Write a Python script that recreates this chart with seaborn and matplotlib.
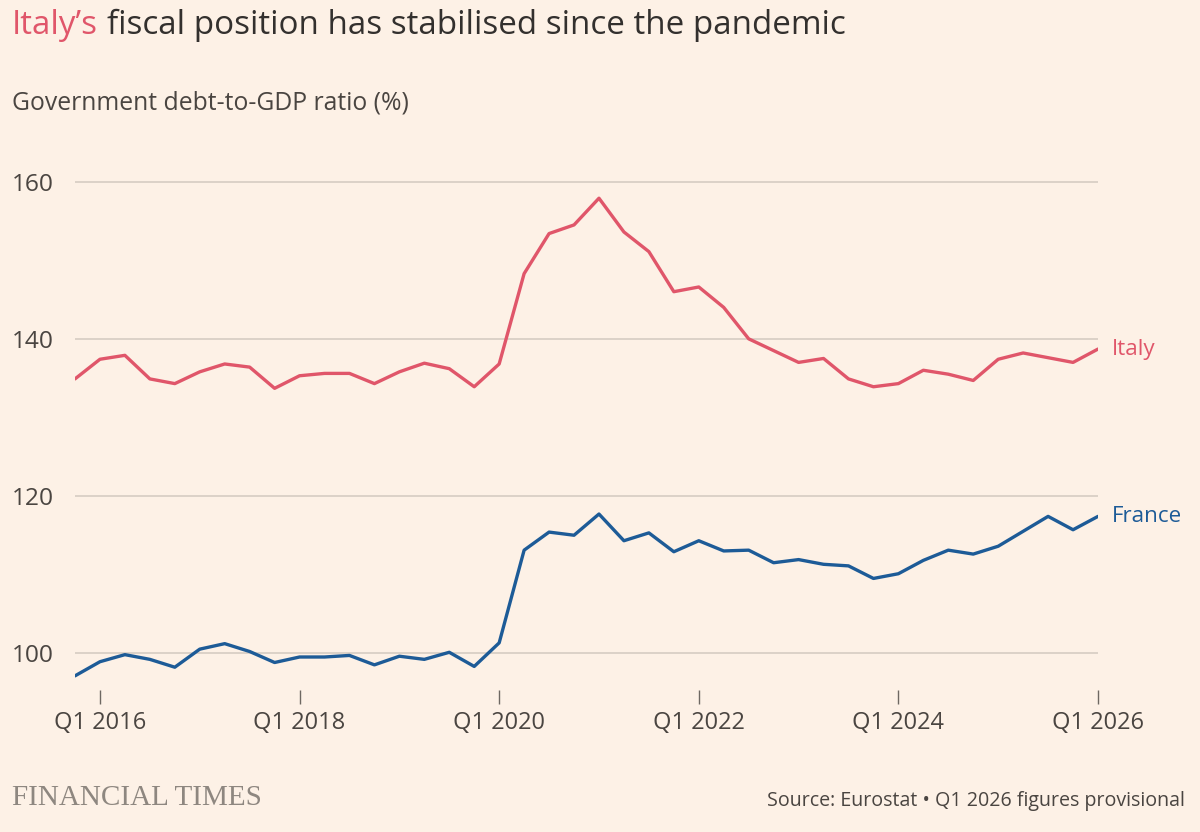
import matplotlib
matplotlib.use("Agg")
import matplotlib.pyplot as plt
import seaborn as sns
import pandas as pd
import numpy as np

# ---- data ----
quarters = [str(p) for p in pd.period_range("2015Q4", "2026Q1", freq="Q")]
italy = [134.9, 137.4, 137.9, 134.9, 134.3, 135.8, 136.8, 136.4, 133.7, 135.3,
         135.6, 135.6, 134.3, 135.8, 136.9, 136.2, 133.9, 136.8, 148.3, 153.4,
         154.5, 157.9, 153.6, 151.1, 146.0, 146.6, 144.0, 140.0, 138.5, 137.0,
         137.5, 134.9, 133.9, 134.3, 136.0, 135.5, 134.7, 137.4, 138.2, 137.6,
         137.0, 138.7]
france = [97.1, 98.9, 99.8, 99.2, 98.2, 100.5, 101.2, 100.2, 98.8, 99.5,
          99.5, 99.7, 98.5, 99.6, 99.2, 100.1, 98.3, 101.3, 113.1, 115.4,
          115.0, 117.7, 114.3, 115.3, 112.9, 114.3, 113.0, 113.1, 111.5, 111.9,
          111.3, 111.1, 109.5, 110.1, 111.8, 113.1, 112.6, 113.6, 115.5, 117.4,
          115.7, 117.4]
x_ticks = ["2016Q1", "2018Q1", "2020Q1", "2022Q1", "2024Q1", "2026Q1"]
x_tick_labels = ["Q1 2016", "Q1 2018", "Q1 2020", "Q1 2022", "Q1 2024", "Q1 2026"]
y_ticks = [100, 120, 140, 160]

BG = "#FDF1E6"
RED = "#E0566A"
BLUE = "#1D5B97"
TEXT = "#33302E"
SUB = "#4A4541"
GRID = "#DCD2C8"
W, H = 1200, 832

idx = list(range(len(quarters)))
df = pd.DataFrame({
    "t": idx * 2,
    "value": italy + france,
    "country": ["Italy"] * len(quarters) + ["France"] * len(quarters),
})

sns.set_theme(style="white")
plt.rcParams["font.family"] = ["Open Sans", "DejaVu Sans"]

fig = plt.figure(figsize=(12, 8.32), dpi=100, facecolor=BG)
ax = fig.add_axes([75 / W, 1 - 690 / H, (1098 - 75) / W, (690 - 166) / H])
ax.set_facecolor(BG)

sns.lineplot(data=df, x="t", y="value", hue="country",
             palette={"Italy": RED, "France": BLUE},
             linewidth=2.4, legend=False, ax=ax)

ax.set_xlim(0, len(quarters) - 1)
ax.set_ylim(95.3, 162.0)


def fit(t, target_px):
    fig.canvas.draw()
    w = t.get_window_extent().width
    t.set_fontsize(t.get_fontsize() * target_px / w)
    return t.get_fontsize()


ax.set_yticks(y_ticks)
ax.set_yticklabels([str(v) for v in y_ticks])
ax.yaxis.grid(True, color=GRID, linewidth=1.4)
ax.set_axisbelow(True)
ax.tick_params(axis="y", length=0, pad=(75 - 12) * 0.72, labelsize=15, labelcolor=SUB)
for lab in ax.get_yticklabels():
    lab.set_horizontalalignment("left")

ax.set_xticks([quarters.index(q) for q in x_ticks])
ax.set_xticklabels(x_tick_labels)
ax.tick_params(axis="x", direction="out", length=10, width=1, color="#6E6862",
               pad=5, labelsize=15, labelcolor=SUB, bottom=True)

ysz = fit(ax.get_yticklabels()[-1], 42)
xsz = fit(ax.get_xticklabels()[0], 92)
ax.tick_params(axis="y", labelsize=ysz)
ax.tick_params(axis="x", labelsize=xsz)

for s in ax.spines.values():
    s.set_visible(False)
ax.set_xlabel("")
ax.set_ylabel("")

# line labels
lab_it = ax.annotate("Italy", xy=(1, italy[-1]), xycoords=("axes fraction", "data"),
                     xytext=(14, 0), textcoords="offset pixels", va="center", ha="left",
                     color=RED, fontsize=16)
lab_fr = ax.annotate("France", xy=(1, france[-1]), xycoords=("axes fraction", "data"),
                     xytext=(14, 0), textcoords="offset pixels", va="center", ha="left",
                     color=BLUE, fontsize=16)
lsz = fit(lab_fr, 70)
lab_it.set_fontsize(lsz)

# title and subtitle
t_red = fig.text(12 / W, 1 - 25 / H, "Italy’s", color=RED, fontsize=22,
                 va="center", ha="left")
t_rest = fig.text(12 / W, 1 - 25 / H, "Italy’s fiscal position has stabilised since the pandemic",
                  color=TEXT, fontsize=22, va="center", ha="left")
fit(t_rest, 833)
t_red.set_fontsize(t_rest.get_fontsize())
t_rest.set_text("fiscal position has stabilised since the pandemic")
probe = fig.text(12 / W, 1 - 25 / H, "Italy’s ", fontsize=t_rest.get_fontsize(), alpha=0)
fig.canvas.draw()
t_rest.set_x(probe.get_window_extent().x1 / W)
probe.remove()

sub = fig.text(12 / W, 1 - 103 / H, "Government debt-to-GDP ratio (%)",
               color=SUB, fontsize=15, va="center", ha="left")
fit(sub, 398)

# footer
ft = fig.text(12 / W, 1 - 798 / H, "FINANCIAL TIMES", color="#8E8780",
              fontsize=18, va="center", ha="left", family="Liberation Serif")
fit(ft, 250)
src = fig.text(1185 / W, 1 - 801 / H, "Source: Eurostat • Q1 2026 figures provisional",
               color=SUB, fontsize=13, va="center", ha="right")
fit(src, 417)

fig.savefig("out.png", dpi=100, facecolor=BG)
